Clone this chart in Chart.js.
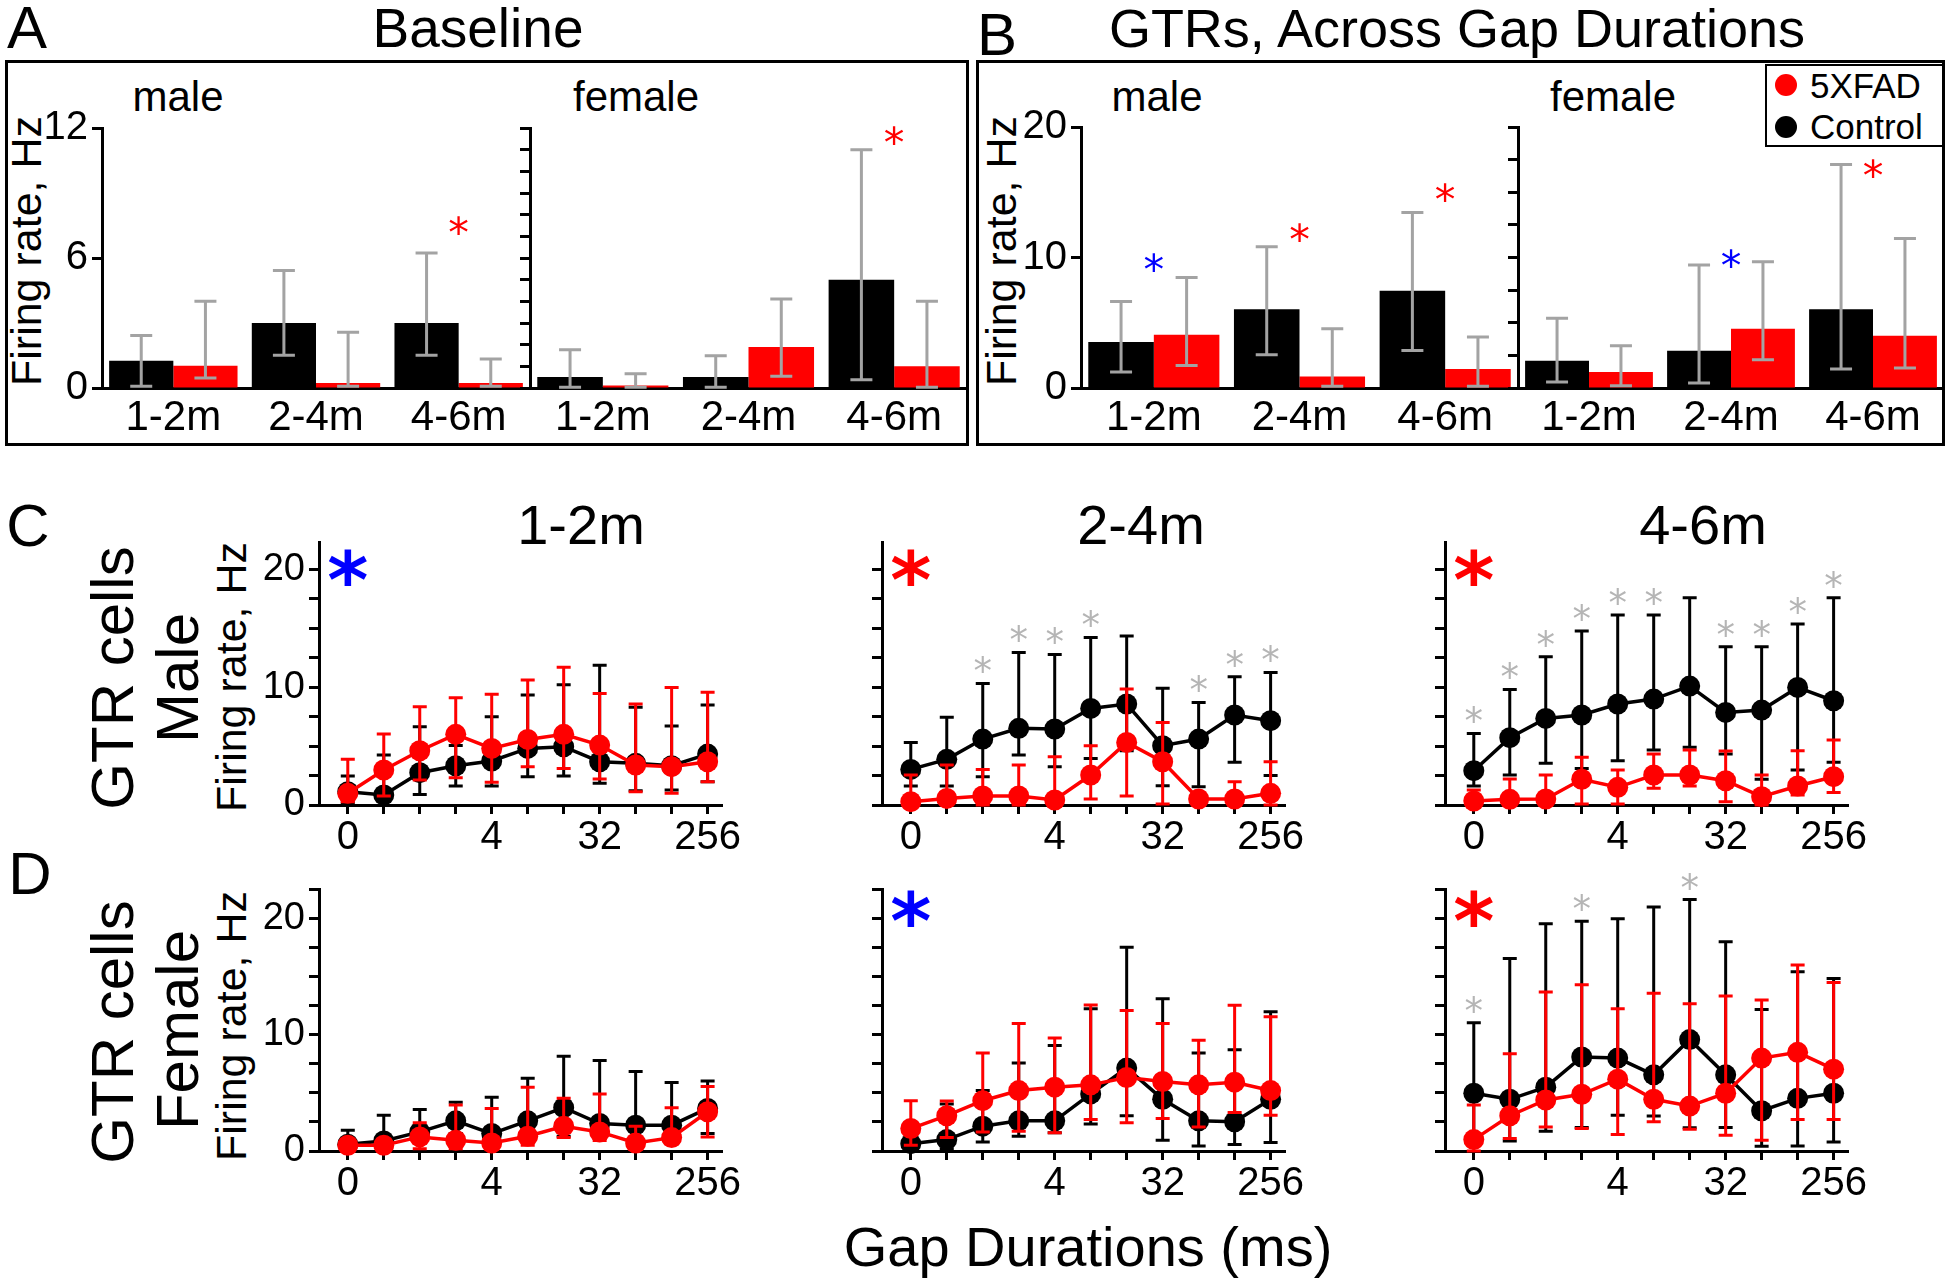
<!DOCTYPE html>
<html>
<head>
<meta charset="utf-8">
<title>Baseline and GTR firing rates</title>
<script src="https://cdn.jsdelivr.net/npm/chart.js@4.4.1/dist/chart.umd.min.js"></script>
<style>
  html, body { margin: 0; background: #fff; }
  #fig { position: relative; width: 1950px; height: 1288px; overflow: hidden; background: #fff;
         font-family: 'Liberation Sans', Arial, Helvetica, sans-serif; color: #000; }
  #fig canvas { position: absolute; }
  .t { position: absolute; white-space: nowrap; line-height: 1; transform: translate(-50%, -50%); }
  .v { transform: translate(-50%, -50%) rotate(-90deg); }
  .l { position: absolute; white-space: nowrap; line-height: 1; transform: translateY(-50%); }
  .box { position: absolute; border: 3px solid #000; box-sizing: border-box; }
  .dot { position: absolute; width: 22px; height: 22px; border-radius: 50%; transform: translate(-50%, -50%); }
</style>
</head>
<body>
<div id="fig">
  <!-- panel frames -->
  <div class="box" style="left:5px;top:60px;width:964px;height:386px"></div>
  <div class="box" style="left:976px;top:60px;width:969px;height:386px"></div>

  <!-- panel A / B headings -->
  <div class="t" style="left:27px;top:28px;font-size:60px">A</div>
  <div class="t" style="left:478px;top:28px;font-size:55px">Baseline</div>
  <div class="t" style="left:997px;top:35px;font-size:60px">B</div>
  <div class="t" style="left:1457px;top:28px;font-size:54px">GTRs, Across Gap Durations</div>
  <div class="t" style="left:178px;top:97px;font-size:42px">male</div>
  <div class="t" style="left:636px;top:97px;font-size:42px">female</div>
  <div class="t" style="left:1157px;top:97px;font-size:42px">male</div>
  <div class="t" style="left:1613px;top:97px;font-size:42px">female</div>
  <div class="t v" style="left:26px;top:251px;font-size:43px">Firing rate, Hz</div>
  <div class="t v" style="left:1001px;top:251px;font-size:43px">Firing rate, Hz</div>

  <!-- legend -->
  <div class="box" style="left:1765px;top:64px;width:179px;height:83px;border-width:2px"></div>
  <div class="dot" style="left:1786px;top:85px;background:#ff0000"></div>
  <div class="dot" style="left:1786px;top:127px;background:#000"></div>
  <div class="l" style="left:1810px;top:85px;font-size:35px">5XFAD</div>
  <div class="l" style="left:1810px;top:126px;font-size:35px">Control</div>

  <!-- panel C / D headings -->
  <div class="t" style="left:28px;top:526px;font-size:60px">C</div>
  <div class="t" style="left:30px;top:874px;font-size:60px">D</div>
  <div class="t" style="left:581px;top:525px;font-size:56px">1-2m</div>
  <div class="t" style="left:1141px;top:525px;font-size:56px">2-4m</div>
  <div class="t" style="left:1703px;top:525px;font-size:56px">4-6m</div>
  <div class="t v" style="left:113px;top:678px;font-size:60px">GTR cells</div>
  <div class="t v" style="left:178px;top:678px;font-size:60px">Male</div>
  <div class="t v" style="left:113px;top:1032px;font-size:60px">GTR cells</div>
  <div class="t v" style="left:178px;top:1030px;font-size:60px">Female</div>
  <div class="t v" style="left:231px;top:677px;font-size:43px">Firing rate, Hz</div>
  <div class="t v" style="left:231px;top:1026px;font-size:43px">Firing rate, Hz</div>
  <div class="t" style="left:1088px;top:1247px;font-size:56px">Gap Durations (ms)</div>
</div>

<script>
// ===== DATA =====
const ageGroups = ['1-2m', '2-4m', '4-6m'];
const gapDurations = [0, 0.5, 1, 2, 4, 8, 16, 32, 64, 128, 256];
const gapLabelsShown = [0, 4, 32, 256];

// A: baseline firing rate, Hz (mean, lower and upper error ends)
const baseMaleCtrl   = [1.26, 3.0, 3.0];
const baseMaleCtrlLo = [0.08, 1.51, 1.51];
const baseMaleCtrlHi = [2.42, 5.42, 6.23];
const baseMaleFad    = [1.03, 0.23, 0.23];
const baseMaleFadLo  = [0.46, 0.08, 0.08];
const baseMaleFadHi  = [4.0, 2.57, 1.34];
const baseFemCtrl    = [0.51, 0.51, 5.0];
const baseFemCtrlLo  = [0.03, 0.03, 0.38];
const baseFemCtrlHi  = [1.77, 1.49, 11.0];
const baseFemFad     = [0.11, 1.89, 1.0];
const baseFemFadLo   = [0.03, 0.54, 0.03];
const baseFemFadHi   = [0.66, 4.11, 4.0];
const baseMaleSig    = ['', '', 'red'];
const baseMaleSigY   = [0, 0, 7.5];
const baseFemSig     = ['', '', 'red'];
const baseFemSigY    = [0, 0, 11.66];

// B: GTR firing rate across gap durations, Hz
const gtrMaleCtrl   = [3.52, 6.04, 7.46];
const gtrMaleCtrlLo = [1.22, 2.55, 2.88];
const gtrMaleCtrlHi = [6.62, 10.83, 13.45];
const gtrMaleFad    = [4.08, 0.89, 1.45];
const gtrMaleFadLo  = [1.73, 0.13, 0.13];
const gtrMaleFadHi  = [8.46, 4.54, 3.9];
const gtrFemCtrl    = [2.09, 2.85, 6.04];
const gtrFemCtrlLo  = [0.46, 0.38, 1.45];
const gtrFemCtrlHi  = [5.35, 9.43, 17.12];
const gtrFemFad     = [1.22, 4.54, 4.0];
const gtrFemFadLo   = [0.18, 2.17, 1.53];
const gtrFemFadHi   = [3.24, 9.68, 11.46];
const gtrMaleSig    = ['blue', 'red', 'red'];
const gtrMaleSigY   = [9.65, 11.95, 15.0];
const gtrFemSig     = ['', 'blue', 'red'];
const gtrFemSigY    = [0, 9.9, 16.8];

// C: male GTR cells, firing rate per gap duration
const m12Ctrl   = [1.13, 0.85, 2.74, 3.33, 3.73, 4.80, 4.94, 3.67, 3.53, 3.33, 4.32];
const m12CtrlLo = [0.2, 0.56, 0.9, 1.61, 1.61, 2.4, 2.46, 1.84, 1.2, 1.27, 1.98];
const m12CtrlHi = [2.46, 4.24, 6.64, 5.05, 7.49, 9.32, 10.2, 11.86, 8.28, 6.69, 8.47];
const m12Fad    = [0.99, 2.97, 4.6, 5.99, 4.8, 5.56, 5.99, 5.08, 3.39, 3.25, 3.67];
const m12FadLo  = [0.28, 0.76, 2.12, 2.32, 1.92, 3.25, 3.1, 2.2, 1.13, 0.99, 1.98];
const m12FadHi  = [3.87, 6.02, 8.33, 9.1, 9.38, 10.6, 11.67, 9.46, 8.56, 9.97, 9.55];
const m12Gray   = [0, 0, 0, 0, 0, 0, 0, 0, 0, 0, 0];

const m24Ctrl   = [3.02, 3.87, 5.59, 6.5, 6.44, 8.19, 8.56, 5.03, 5.59, 7.63, 7.15];
const m24CtrlLo = [1.61, 1.61, 2.4, 4.24, 3.25, 3.95, 4.6, 1.64, 1.55, 3.62, 2.51];
const m24CtrlHi = [5.31, 7.43, 10.31, 12.94, 12.77, 14.21, 14.32, 9.89, 8.7, 10.88, 11.24];
const m24Fad    = [0.28, 0.56, 0.76, 0.76, 0.42, 2.54, 5.31, 3.67, 0.51, 0.51, 0.99];
const m24FadLo  = [0, 0, 0, 0, 0, 0.51, 0.76, 0.08, 0, 0, 0];
const m24FadHi  = [2.54, 3.39, 3.02, 3.39, 4.1, 5.03, 9.83, 7.0, 1.0, 1.98, 3.67];
const m24Gray   = [0, 0, 1, 1, 1, 1, 0, 0, 1, 1, 1];

const m46Ctrl   = [2.91, 5.71, 7.34, 7.63, 8.56, 8.98, 10.08, 7.85, 8.05, 9.97, 8.84];
const m46CtrlLo = [1.61, 2.54, 3.53, 3.1, 3.76, 4.66, 4.89, 4.32, 2.18, 2.97, 3.62];
const m46CtrlHi = [6.07, 9.8, 12.57, 14.75, 16.1, 16.1, 17.57, 13.42, 13.42, 15.34, 17.57];
const m46Fad    = [0.34, 0.48, 0.51, 2.18, 1.5, 2.54, 2.54, 2.06, 0.71, 1.61, 2.4];
const m46FadLo  = [0, 0, 0, 0.08, 0.08, 1.41, 1.61, 0.28, 0, 0.85, 1.07];
const m46FadHi  = [1.27, 2.2, 2.54, 4.04, 2.97, 4.32, 4.66, 4.58, 2.54, 4.6, 5.51];
const m46Gray   = [1, 1, 1, 1, 1, 1, 0, 1, 1, 1, 1];

// D: female GTR cells
const f12Ctrl   = [0.58, 0.86, 1.64, 2.59, 1.5, 2.59, 3.72, 2.36, 2.22, 2.22, 3.66];
const f12CtrlLo = [0.3, 0.3, 0.8, 1.5, 0.5, 1.0, 1.27, 1.1, 0.6, 0.8, 1.5];
const f12CtrlHi = [1.79, 3.08, 3.57, 4.18, 4.61, 6.25, 8.13, 7.78, 6.83, 5.88, 6.02];
const f12Fad    = [0.49, 0.49, 1.21, 0.92, 0.69, 1.27, 2.13, 1.64, 0.69, 1.15, 3.37];
const f12FadLo  = [0.2, 0.2, 0.2, 0.2, 0.2, 0.5, 1.15, 0.9, 0.2, 0.6, 1.21];
const f12FadHi  = [0.9, 0.7, 2.42, 3.95, 3.66, 5.48, 4.52, 4.9, 2.13, 3.72, 5.53];
const f12Gray   = [0, 0, 0, 0, 0, 0, 0, 0, 0, 0, 0];

const f24Ctrl   = [0.63, 0.98, 2.13, 2.59, 2.59, 4.9, 7.12, 4.44, 2.59, 2.51, 4.44];
const f24CtrlLo = [0.06, 0.2, 0.78, 1.27, 1.56, 2.31, 3.03, 0.92, 0.43, 0.55, 0.72];
const f24CtrlHi = [2.0, 4.03, 5.19, 7.55, 9.05, 12.22, 17.49, 13.08, 8.41, 8.7, 11.96];
const f24Fad    = [1.93, 3.03, 4.32, 5.19, 5.48, 5.68, 6.31, 5.97, 5.68, 5.91, 5.19];
const f24FadLo  = [0.49, 1.15, 1.64, 1.7, 1.56, 2.71, 2.42, 2.8, 2.07, 3.31, 3.08];
const f24FadHi  = [4.32, 4.29, 8.41, 10.95, 9.71, 12.54, 12.07, 10.95, 9.51, 12.51, 11.53];
const f24Gray   = [0, 0, 0, 0, 0, 0, 0, 0, 0, 0, 0];

const f46Ctrl   = [4.96, 4.44, 5.48, 8.07, 7.98, 6.54, 9.57, 6.54, 3.46, 4.52, 4.96];
const f46CtrlLo = [1.0, 0.86, 1.7, 2.02, 3.08, 3.0, 2.0, 2.02, 0.4, 0.43, 0.78];
const f46CtrlHi = [11.01, 16.54, 19.51, 19.74, 19.94, 20.95, 21.59, 17.98, 12.16, 15.39, 14.81];
const f46Fad    = [0.98, 3.03, 4.38, 4.87, 6.17, 4.44, 3.86, 4.96, 7.98, 8.47, 7.03];
const f46FadLo  = [0, 1.07, 2.07, 1.93, 1.41, 2.51, 1.87, 1.35, 0.92, 2.71, 2.71];
const f46FadHi  = [3.95, 8.36, 13.66, 14.27, 12.22, 13.54, 12.65, 13.31, 12.97, 15.97, 14.47];
const f46Gray   = [1, 0, 0, 1, 0, 0, 1, 0, 0, 0, 0];

// overall genotype effect per age (C row = male, D row = female)
const maleOverallSig = ['blue', 'red', 'red'];
const femOverallSig  = ['', 'blue', 'red'];

// ===== STYLE / LAYOUT =====
const FONT = "'Liberation Sans', Arial, Helvetica, sans-serif";
const STAR_FONT = "'DejaVu Sans', sans-serif";
const COL = { ctrl: '#000000', fad: '#ff0000', red: '#ff0000', blue: '#0000ff',
              err: '#a3a3a3', grayStar: '#b5b5b5' };
const PADL = 90, PADR = 45, PADT = 40, PADB = 72;

Chart.defaults.font.family = FONT;
Chart.defaults.color = '#000';
Chart.defaults.animation = false;

const range = (a, b, s) => { const r = []; for (let v = a; v <= b + 1e-9; v += s) r.push(+v.toFixed(2)); return r; };

function addCanvas(area) {
  const w = area[2] - area[0] + PADL + PADR, h = area[3] - area[1] + PADT + PADB;
  const c = document.createElement('canvas');
  c.width = w; c.height = h;
  Object.assign(c.style, { left: (area[0] - PADL) + 'px', top: (area[1] - PADT) + 'px',
                           width: w + 'px', height: h + 'px' });
  document.getElementById('fig').appendChild(c);
  return c;
}

function drawStar(ctx, cx, cy, h, color, bold) {
  const w = bold ? 'bold ' : '';
  ctx.save();
  ctx.font = w + '100px ' + STAR_FONT;
  let m = ctx.measureText('*');
  const fs = 100 * h / (m.actualBoundingBoxAscent + m.actualBoundingBoxDescent);
  ctx.font = w + fs.toFixed(1) + 'px ' + STAR_FONT;
  m = ctx.measureText('*');
  ctx.fillStyle = color;
  ctx.textAlign = 'center';
  ctx.textBaseline = 'alphabetic';
  ctx.fillText('*', cx, cy + (m.actualBoundingBoxAscent - m.actualBoundingBoxDescent) / 2);
  ctx.restore();
}

function starPlugin(items) {
  return {
    id: 'stars',
    afterDraw(chart) {
      const { ctx, scales: { x, y } } = chart;
      items.forEach(s => drawStar(ctx, x.getPixelForValue(s.x), y.getPixelForValue(s.y) + (s.dy || 0), s.h, s.color, s.bold));
    }
  };
}

// grey error bars over grouped bars
const barErrors = {
  id: 'barErrors',
  afterDatasetsDraw(chart) {
    const { ctx, scales: { y } } = chart;
    ctx.save();
    ctx.strokeStyle = COL.err; ctx.lineWidth = 3;
    chart.data.datasets.forEach((ds, d) => {
      chart.getDatasetMeta(d).data.forEach((bar, i) => {
        const px = bar.x, y1 = y.getPixelForValue(ds.errLo[i]), y2 = y.getPixelForValue(ds.errHi[i]);
        ctx.beginPath();
        ctx.moveTo(px, y1); ctx.lineTo(px, y2);
        ctx.moveTo(px - 11, y1); ctx.lineTo(px + 11, y1);
        ctx.moveTo(px - 11, y2); ctx.lineTo(px + 11, y2);
        ctx.stroke();
      });
    });
    ctx.restore();
  }
};

// capped error bars under each line dataset
const lineErrors = {
  id: 'lineErrors',
  beforeDatasetDraw(chart, args) {
    const ds = chart.data.datasets[args.index];
    const { ctx, scales: { x, y } } = chart;
    ctx.save();
    ctx.strokeStyle = ds.borderColor; ctx.lineWidth = 3;
    ds.errLo.forEach((lo, i) => {
      const px = x.getPixelForValue(i), y1 = y.getPixelForValue(lo), y2 = y.getPixelForValue(ds.errHi[i]);
      ctx.beginPath();
      ctx.moveTo(px, y1); ctx.lineTo(px, y2);
      ctx.moveTo(px - 7, y1); ctx.lineTo(px + 7, y1);
      ctx.moveTo(px - 7, y2); ctx.lineTo(px + 7, y2);
      ctx.stroke();
    });
    ctx.restore();
  }
};

function yScale(max, ticks, labels, size) {
  return {
    min: 0, max,
    afterBuildTicks: s => { s.ticks = ticks.map(v => ({ value: v })); },
    afterFit: s => { s.width = PADL; },
    ticks: { autoSkip: false, padding: 4, color: '#000', font: { size, family: FONT },
             callback: v => labels.includes(v) ? String(v) : '' },
    grid: { display: true, drawOnChartArea: false, drawTicks: true, tickLength: 10, tickWidth: 3, tickColor: '#000' },
    border: { display: true, color: '#000', width: 3 }
  };
}

// ===== BAR CHARTS (A, B) =====
function barChart(area, ctrl, ctrlLo, ctrlHi, fad, fadLo, fadHi, sig, sigY, max, ticks, labels) {
  const stars = [];
  sig.forEach((c, i) => { if (c) stars.push({ x: i, y: sigY[i], color: COL[c], h: 19 }); });
  new Chart(addCanvas(area), {
    type: 'bar',
    data: {
      labels: ageGroups,
      datasets: [
        { data: ctrl, backgroundColor: COL.ctrl, errLo: ctrlLo, errHi: ctrlHi, categoryPercentage: 0.9, barPercentage: 1 },
        { data: fad, backgroundColor: COL.fad, errLo: fadLo, errHi: fadHi, categoryPercentage: 0.9, barPercentage: 1 }
      ]
    },
    options: {
      responsive: false, events: [],
      layout: { padding: { left: 0, top: PADT, right: PADR, bottom: 0 } },
      plugins: { legend: { display: false }, tooltip: { enabled: false } },
      scales: {
        x: {
          z: 1,
          afterFit: s => { s.height = PADB; },
          ticks: { padding: -3, maxRotation: 0, color: '#000', font: { size: 42, family: FONT } },
          grid: { display: false },
          border: { display: true, color: '#000', width: 3 }
        },
        y: yScale(max, ticks, labels, 40)
      }
    },
    plugins: [barErrors, starPlugin(stars)]
  });
}

barChart([102, 128, 530, 388], baseMaleCtrl, baseMaleCtrlLo, baseMaleCtrlHi, baseMaleFad, baseMaleFadLo, baseMaleFadHi,
         baseMaleSig, baseMaleSigY, 12, [0, 6, 12], [0, 6, 12]);
barChart([530, 128, 967, 388], baseFemCtrl, baseFemCtrlLo, baseFemCtrlHi, baseFemFad, baseFemFadLo, baseFemFadHi,
         baseFemSig, baseFemSigY, 12, range(0, 12, 1), []);
barChart([1081, 127, 1518, 388], gtrMaleCtrl, gtrMaleCtrlLo, gtrMaleCtrlHi, gtrMaleFad, gtrMaleFadLo, gtrMaleFadHi,
         gtrMaleSig, gtrMaleSigY, 20, [0, 10, 20], [0, 10, 20]);
barChart([1518, 127, 1944, 388], gtrFemCtrl, gtrFemCtrlLo, gtrFemCtrlHi, gtrFemFad, gtrFemFadLo, gtrFemFadHi,
         gtrFemSig, gtrFemSigY, 20, range(0, 20, 2.5), []);

// ===== LINE CHARTS (C, D) =====
function lineChart(area, max, bigY, d, bigColor, showY) {
  const stars = [];
  d.gray.forEach((g, i) => { if (g) stars.push({ x: i, y: d.ctrlHi[i], dy: -19, color: COL.grayStar, h: 17 }); });
  if (bigColor) stars.push({ x: 0, y: bigY, color: COL[bigColor], h: 37, bold: true });
  const pts = arr => arr.map((v, i) => ({ x: i, y: v }));
  const series = (vals, lo, hi, color, order) => ({
    data: pts(vals), errLo: lo, errHi: hi, order, clip: false,
    borderColor: color, backgroundColor: color, borderWidth: 3.5,
    pointRadius: 10.5, pointHoverRadius: 10.5, pointBorderWidth: 0, pointBackgroundColor: color
  });
  new Chart(addCanvas(area), {
    type: 'line',
    data: {
      datasets: [
        series(d.ctrl, d.ctrlLo, d.ctrlHi, COL.ctrl, 2),
        series(d.fad, d.fadLo, d.fadHi, COL.fad, 1)
      ]
    },
    options: {
      responsive: false, events: [],
      layout: { padding: { left: 0, top: PADT, right: PADR, bottom: 0 } },
      plugins: { legend: { display: false }, tooltip: { enabled: false } },
      scales: {
        x: {
          type: 'linear', min: -0.8, max: 10.4,
          afterBuildTicks: s => { s.ticks = gapDurations.map((g, i) => ({ value: i })); },
          afterFit: s => { s.height = PADB; },
          ticks: { autoSkip: false, maxRotation: 0, padding: 0, color: '#000', font: { size: 40, family: FONT },
                   callback: v => gapLabelsShown.includes(gapDurations[v]) ? String(gapDurations[v]) : '' },
          grid: { display: true, drawOnChartArea: false, drawTicks: true, tickLength: 9, tickWidth: 3, tickColor: '#000' },
          border: { display: true, color: '#000', width: 3 }
        },
        y: yScale(max, range(0, max, 2.5), showY ? [0, 10, 20] : [], 38)
      }
    },
    plugins: [lineErrors, starPlugin(stars)]
  });
}

const colLeft = [319, 882, 1445];
const maleSets = [
  { ctrl: m12Ctrl, ctrlLo: m12CtrlLo, ctrlHi: m12CtrlHi, fad: m12Fad, fadLo: m12FadLo, fadHi: m12FadHi, gray: m12Gray },
  { ctrl: m24Ctrl, ctrlLo: m24CtrlLo, ctrlHi: m24CtrlHi, fad: m24Fad, fadLo: m24FadLo, fadHi: m24FadHi, gray: m24Gray },
  { ctrl: m46Ctrl, ctrlLo: m46CtrlLo, ctrlHi: m46CtrlHi, fad: m46Fad, fadLo: m46FadLo, fadHi: m46FadHi, gray: m46Gray }
];
const femSets = [
  { ctrl: f12Ctrl, ctrlLo: f12CtrlLo, ctrlHi: f12CtrlHi, fad: f12Fad, fadLo: f12FadLo, fadHi: f12FadHi, gray: f12Gray },
  { ctrl: f24Ctrl, ctrlLo: f24CtrlLo, ctrlHi: f24CtrlHi, fad: f24Fad, fadLo: f24FadLo, fadHi: f24FadHi, gray: f24Gray },
  { ctrl: f46Ctrl, ctrlLo: f46CtrlLo, ctrlHi: f46CtrlHi, fad: f46Fad, fadLo: f46FadLo, fadHi: f46FadHi, gray: f46Gray }
];

colLeft.forEach((l, c) => {
  lineChart([l, 542, l + 403, 805], 22.3, 20.1, maleSets[c], maleOverallSig[c], c === 0);
  lineChart([l, 889, l + 403, 1151], 22.5, 20.8, femSets[c], femOverallSig[c], c === 0);
});
</script>
</body>
</html>
